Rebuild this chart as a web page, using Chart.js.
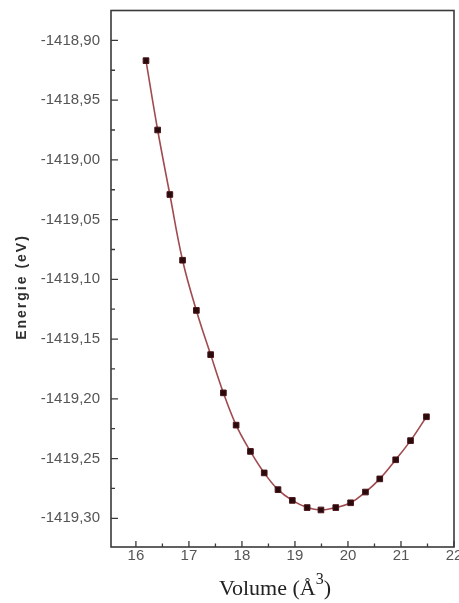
<!DOCTYPE html>
<html>
<head>
<meta charset="utf-8">
<script src="https://cdn.jsdelivr.net/npm/chart.js@4"></script>
<style>
  html, body { margin: 0; padding: 0; background: #fff; }
  #wrap { width: 459px; height: 603px; }
</style>
</head>
<body>
<div id="wrap"><canvas id="c" width="459" height="603"></canvas></div>
<script>
// Cell volume (Å^3) and total energy (eV) from the E(V) scan
const volumes = [16.19, 16.41, 16.64, 16.88, 17.14, 17.41, 17.65, 17.89, 18.16, 18.42,
                 18.68, 18.95, 19.23, 19.49, 19.77, 20.05, 20.33, 20.60, 20.90, 21.18, 21.48];
const energies = [-1418.917, -1418.975, -1419.029, -1419.084, -1419.126, -1419.163, -1419.195,
                  -1419.222, -1419.244, -1419.262, -1419.276, -1419.285, -1419.291, -1419.293,
                  -1419.291, -1419.287, -1419.278, -1419.267, -1419.251, -1419.235, -1419.215];
const xTicks = [16, 17, 18, 19, 20, 21, 22];
const yTicks = [-1418.90, -1418.95, -1419.00, -1419.05, -1419.10, -1419.15, -1419.20, -1419.25, -1419.30];

const points = volumes.map((v, i) => ({ x: v, y: energies[i] }));
const fmtY = v => v.toFixed(2).replace('.', ',');

// Frame, inward major/minor ticks and axis titles
const framePlugin = {
  id: 'frame',
  afterDraw(chart) {
    const { ctx, chartArea: a, scales } = chart;
    const xs = scales.x, ys = scales.y;
    ctx.save();
    ctx.strokeStyle = '#3a3a3a';
    ctx.lineWidth = 1.6;
    ctx.strokeRect(a.left, a.top, a.right - a.left, a.bottom - a.top);

    ctx.lineWidth = 1.3;
    ctx.beginPath();
    xTicks.forEach(t => {
      const px = xs.getPixelForValue(t);
      ctx.moveTo(px, a.bottom); ctx.lineTo(px, a.bottom - 6);
      const mx = xs.getPixelForValue(t - 0.5);
      if (mx > a.left) { ctx.moveTo(mx, a.bottom); ctx.lineTo(mx, a.bottom - 3.5); }
    });
    yTicks.forEach(t => {
      const py = ys.getPixelForValue(t);
      ctx.moveTo(a.left, py); ctx.lineTo(a.left + 7, py);
      const my = ys.getPixelForValue(t + 0.025);
      if (my > a.top) { ctx.moveTo(a.left, my); ctx.lineTo(a.left + 4, my); }
    });
    ctx.stroke();

    // x title with raised exponent
    ctx.fillStyle = '#222';
    ctx.textBaseline = 'alphabetic';
    ctx.textAlign = 'left';
    const mainFont = '22px "Liberation Serif", "Times New Roman", serif';
    const supFont = '16px "Liberation Serif", "Times New Roman", serif';
    ctx.font = mainFont;
    const p1 = 'Volume (Å', p3 = ')';
    const w1 = ctx.measureText(p1).width, w3 = ctx.measureText(p3).width;
    ctx.font = supFont;
    const w2 = ctx.measureText('3').width;
    const total = w1 + w2 + w3;
    const cx = 275, base = 595;
    let x0 = cx - total / 2;
    ctx.font = mainFont; ctx.fillText(p1, x0, base);
    ctx.font = supFont; ctx.fillText('3', x0 + w1, base - 11);
    ctx.font = mainFont; ctx.fillText(p3, x0 + w1 + w2, base);

    // y title
    ctx.save();
    ctx.translate(22, 287);
    ctx.rotate(-Math.PI / 2);
    ctx.font = 'bold 14px "Liberation Sans", Arial, sans-serif';
    ctx.letterSpacing = '2px';
    ctx.fillStyle = '#2e2e2e';
    ctx.textAlign = 'center';
    ctx.textBaseline = 'middle';
    ctx.fillText('Energie (eV)', 0, 0);
    ctx.restore();
    ctx.restore();
  }
};

new Chart(document.getElementById('c'), {
  type: 'scatter',
  data: {
    datasets: [{
      data: points,
      showLine: true,
      tension: 0.4,
      borderColor: 'rgba(150, 55, 60, 0.9)',
      borderWidth: 1.6,
      pointStyle: 'rect',
      pointRadius: 4,
      pointHoverRadius: 4,
      pointBackgroundColor: '#2a0b0d',
      pointBorderColor: '#4a1418',
      pointBorderWidth: 1
    }]
  },
  options: {
    responsive: false,
    animation: false,
    devicePixelRatio: 1,
    layout: { padding: { top: 10.5, right: 4, left: 0, bottom: 0 } },
    plugins: { legend: { display: false }, tooltip: { enabled: false } },
    scales: {
      x: {
        type: 'linear',
        min: 15.53,
        max: 22.0,
        grid: { display: false, drawTicks: false, tickLength: 0 },
        border: { display: false },
        ticks: {
          stepSize: 1,
          includeBounds: false,
          padding: 0,
          color: '#555',
          font: { family: '"Liberation Sans", Arial, sans-serif', size: 15 },
          maxRotation: 0,
          autoSkip: false
        },
        afterBuildTicks(s) { s.ticks = xTicks.map(v => ({ value: v })); },
        afterFit(s) { s.height = 56; s.paddingLeft = 0; s.paddingRight = 0; }
      },
      y: {
        type: 'linear',
        min: -1419.324,
        max: -1418.875,
        grid: { display: false, drawTicks: false, tickLength: 0 },
        border: { display: false },
        ticks: {
          includeBounds: false,
          padding: 11,
          color: '#555',
          font: { family: '"Liberation Sans", Arial, sans-serif', size: 15 },
          autoSkip: false,
          callback: v => fmtY(v)
        },
        afterBuildTicks(s) { s.ticks = yTicks.map(v => ({ value: v })); },
        afterFit(s) { s.width = 111; s.paddingTop = 0; s.paddingBottom = 0; }
      }
    }
  },
  plugins: [framePlugin]
});
</script>
</body>
</html>
